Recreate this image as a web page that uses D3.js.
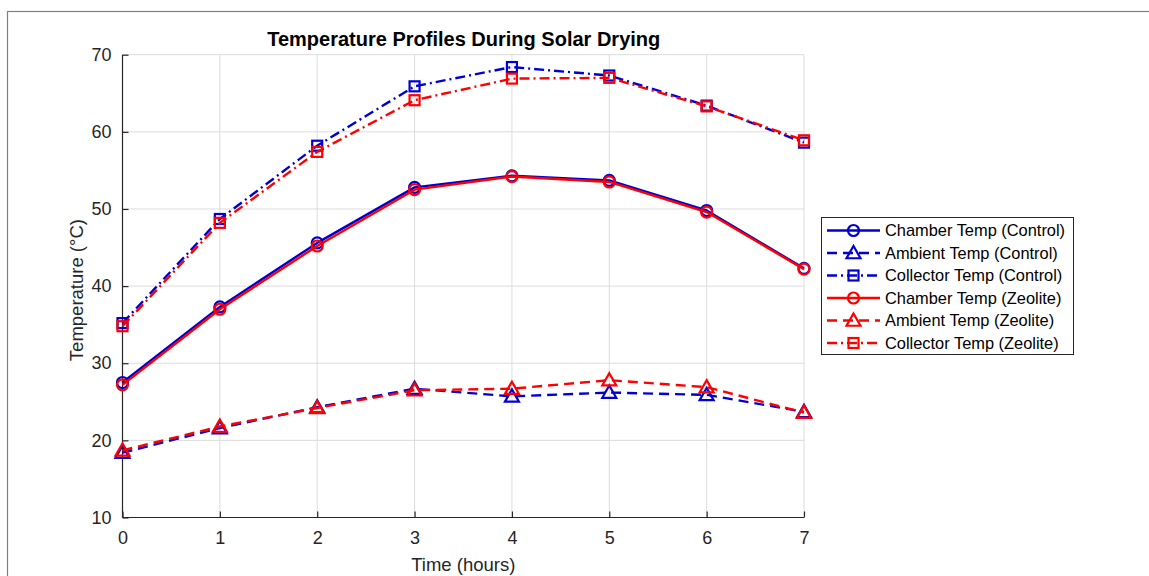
<!DOCTYPE html>
<html><head><meta charset="utf-8">
<script src="https://cdn.jsdelivr.net/npm/d3@7"></script>
<style>
body{margin:0;background:#fff;}
svg{display:block;font-family:"Liberation Sans",Arial,Helvetica,sans-serif;}
</style></head>
<body><svg id="c" width="1149" height="576"></svg>
<script>
const hours = [0,1,2,3,4,5,6,7];
const chamberControl = [27.5,37.3,45.6,52.8,54.3,53.7,49.8,42.3];
const ambientControl = [18.4,21.6,24.3,26.7,25.7,26.2,25.9,23.7];
const collectorControl = [35.2,48.7,58.2,65.9,68.4,67.3,63.4,58.6];
const chamberZeolite = [27.2,37.0,45.2,52.5,54.2,53.5,49.6,42.2];
const ambientZeolite = [18.7,21.8,24.2,26.5,26.7,27.8,26.9,23.6];
const collectorZeolite = [34.8,48.2,57.4,64.1,66.9,67.0,63.3,58.9];
const xTicks = [0,1,2,3,4,5,6,7];
const yTicks = [10,20,30,40,50,60,70];
const seriesNames = ["Chamber Temp (Control)","Ambient Temp (Control)","Collector Temp (Control)","Chamber Temp (Zeolite)","Ambient Temp (Zeolite)","Collector Temp (Zeolite)"];

const BLUE="#0000d2", RED="#ff0000";
const series = [
 {name:seriesNames[0], values:chamberControl, color:BLUE, dash:null, marker:"circle"},
 {name:seriesNames[1], values:ambientControl, color:BLUE, dash:"10,6", marker:"triangle"},
 {name:seriesNames[2], values:collectorControl, color:BLUE, dash:"10,4,2,4", marker:"square"},
 {name:seriesNames[3], values:chamberZeolite, color:RED, dash:null, marker:"circle"},
 {name:seriesNames[4], values:ambientZeolite, color:RED, dash:"10,6", marker:"triangle"},
 {name:seriesNames[5], values:collectorZeolite, color:RED, dash:"10,4,2,4", marker:"square"}
];

const svg = d3.select("#c");
// outer frame
svg.append("rect").attr("x",7.5).attr("y",11.5).attr("width",1160).attr("height",600)
  .attr("fill","none").attr("stroke","#808080").attr("stroke-width",1.2);

const L=122.5, R=804, T=54.7, B=517.5;
const x = d3.scaleLinear().domain([0,7]).range([L,R]);
const y = d3.scaleLinear().domain([10,70]).range([B,T]);

const g = svg.append("g");
// grid
g.selectAll(".gx").data(xTicks).enter().append("line")
 .attr("x1",d=>x(d)).attr("x2",d=>x(d)).attr("y1",T).attr("y2",B)
 .attr("stroke","#dcdcdc").attr("stroke-width",1);
g.selectAll(".gy").data(yTicks).enter().append("line")
 .attr("x1",L).attr("x2",R).attr("y1",d=>y(d)).attr("y2",d=>y(d))
 .attr("stroke","#dcdcdc").attr("stroke-width",1);

// axes
const xAxis = d3.axisBottom(x).tickValues(xTicks).tickSize(-6).tickPadding(15).tickFormat(d3.format("d"));
const yAxis = d3.axisLeft(y).tickValues(yTicks).tickSize(-6).tickPadding(11).tickFormat(d3.format("d"));
const gx = svg.append("g").attr("transform",`translate(0,${B})`).call(xAxis);
const gy = svg.append("g").attr("transform",`translate(${L},0)`).call(yAxis);
[gx,gy].forEach(a=>{
  a.select(".domain").attr("stroke","#262626").attr("stroke-width",1.2);
  a.selectAll(".tick line").attr("stroke","#262626").attr("stroke-width",1.2);
  a.selectAll(".tick text").attr("fill","#262626").style("font-size","18px").style("font-family","'Liberation Sans',Arial,sans-serif");
});
gx.selectAll(".tick text").attr("dy","0.62em");
gx.select(".domain").attr("d",`M${L},0H${R}`);
gy.select(".domain").attr("d",`M0,${B}V${T}`);

// lines
const line = d3.line().x((d,i)=>x(hours[i])).y(d=>y(d));
function drawMarker(sel, type, color, cx, cy){
  if(type==="circle"){
    sel.append("circle").attr("cx",cx).attr("cy",cy).attr("r",5.5)
      .attr("fill","none").attr("stroke",color).attr("stroke-width",2.2);
  } else if(type==="triangle"){
    const s=7;
    sel.append("path").attr("d",`M${cx},${cy-s}L${cx+s},${cy+s*0.75}L${cx-s},${cy+s*0.75}Z`)
      .attr("fill","none").attr("stroke",color).attr("stroke-width",2.2);
  } else {
    const s=5;
    sel.append("rect").attr("x",cx-s).attr("y",cy-s).attr("width",2*s).attr("height",2*s)
      .attr("fill","none").attr("stroke",color).attr("stroke-width",2.2);
  }
}
series.forEach(s=>{
  const sg = svg.append("g");
  sg.append("path").datum(s.values).attr("d",line).attr("fill","none")
    .attr("stroke",s.color).attr("stroke-width",2.4)
    .attr("stroke-dasharray",s.dash).attr("stroke-linejoin","round");
  s.values.forEach((v,i)=>drawMarker(sg,s.marker,s.color,x(hours[i]),y(v)));
});

// title and labels
svg.append("text").attr("x",(L+R)/2+0.5).attr("y",46).attr("text-anchor","middle")
 .style("font-weight","bold").style("font-size","20px").attr("fill","#000")
 .text("Temperature Profiles During Solar Drying");
svg.append("text").attr("x",(L+R)/2).attr("y",571).attr("text-anchor","middle")
 .style("font-size","18.5px").attr("fill","#262626").text("Time (hours)");
svg.append("text").attr("transform",`translate(83,${(T+B)/2+4}) rotate(-90)`).attr("text-anchor","middle")
 .style("font-size","18.5px").attr("fill","#262626").text("Temperature (°C)");

// legend
const lg = svg.append("g");
lg.append("rect").attr("x",821.5).attr("y",217.5).attr("width",252).attr("height",137)
 .attr("fill","#fff").attr("stroke","#262626").attr("stroke-width",1);
series.forEach((s,i)=>{
  const yy = 230.5 + i*22.5;
  lg.append("line").attr("x1",827).attr("x2",880).attr("y1",yy).attr("y2",yy)
    .attr("stroke",s.color).attr("stroke-width",2.4).attr("stroke-dasharray",s.dash);
  drawMarker(lg,s.marker,s.color,853.5,yy);
  lg.append("text").attr("x",885).attr("y",yy+5.5).style("font-size","16.4px")
    .attr("fill","#000").text(s.name);
});
</script></body></html>
